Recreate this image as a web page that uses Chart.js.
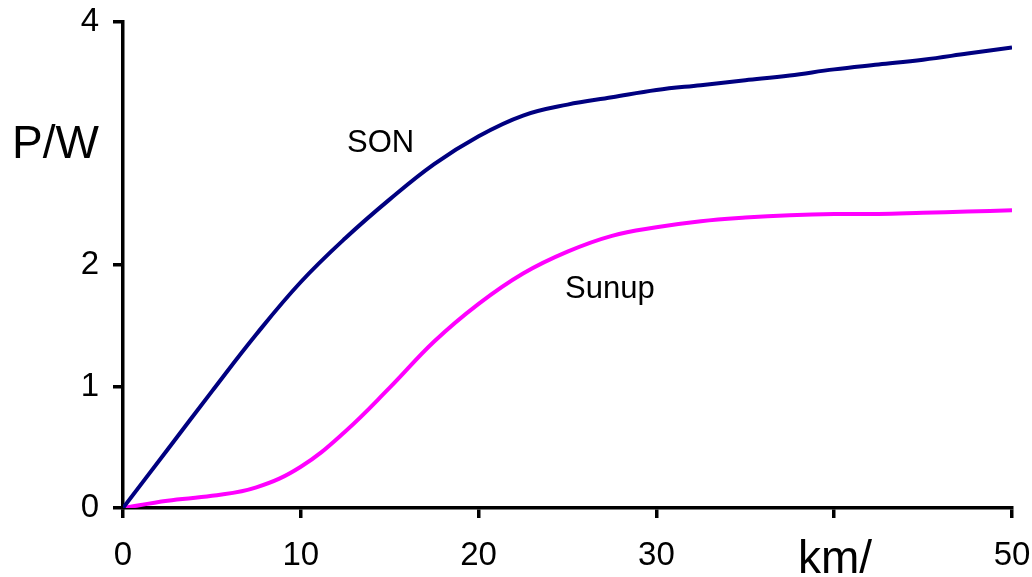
<!DOCTYPE html>
<html>
<head>
<meta charset="utf-8">
<script src="https://cdn.jsdelivr.net/npm/chart.js@4"></script>
<style>
html,body{margin:0;padding:0;background:#fff;}
#wrap{width:1032px;height:577px;position:relative;}
</style>
</head>
<body>
<div id="wrap"><canvas id="c"></canvas></div>
<script>
const xValues   = [0, 2.5, 5, 7.5, 10, 12.5, 15, 17.5, 20, 22.5, 25, 27.5, 30, 32.5, 35, 37.5, 40, 42.5, 45, 47.5, 50];
const sonValues = [0, 0.48, 0.96, 1.43, 1.86, 2.22, 2.54, 2.83, 3.06, 3.23, 3.32, 3.38, 3.44, 3.48, 3.52, 3.56, 3.61, 3.65, 3.69, 3.74, 3.79];
const sunupValues = [0, 0.06, 0.10, 0.17, 0.34, 0.63, 0.99, 1.37, 1.68, 1.93, 2.11, 2.24, 2.31, 2.36, 2.39, 2.41, 2.42, 2.42, 2.43, 2.44, 2.45];
const seriesNames = ['SON', 'Sunup'];
const xTickLabels = {0:'0', 10:'10', 20:'20', 30:'30', 40:'', 50:'50'};
const yTickLabels = {0:'0', 1:'1', 2:'2', 3:'', 4:'4'};
const xTitle = 'km/';
const yTitle = 'P/W';

const FONT = 'Liberation Sans, Arial, sans-serif';

function pts(ys){ return xValues.map((x,i)=>({x:x, y:ys[i]})); }

const annot = {
  id:'annot',
  afterDraw(chart){
    const ctx = chart.ctx, xs = chart.scales.x, ys = chart.scales.y;
    ctx.save();
    ctx.fillStyle = '#000';
    ctx.textAlign = 'left';
    ctx.textBaseline = 'alphabetic';
    ctx.font = '31px ' + FONT;
    ctx.fillText(seriesNames[0], xs.getPixelForValue(12.6), ys.getPixelForValue(2.93));
    ctx.fillText(seriesNames[1], xs.getPixelForValue(24.86), ys.getPixelForValue(1.73));
    ctx.font = '46px ' + FONT;
    ctx.fillText(yTitle, 12, ys.getPixelForValue(3) + 14);
    ctx.fillText(xTitle, xs.getPixelForValue(37.96), ys.bottom + 65);
    ctx.restore();
  }
};

new Chart(document.getElementById('c'), {
  type: 'scatter',
  data: {
    datasets: [
      {label: seriesNames[0], data: pts(sonValues), showLine: true, borderColor: '#000080', borderWidth: 4, pointRadius: 0, tension: 0.4},
      {label: seriesNames[1], data: pts(sunupValues), showLine: true, borderColor: '#ff00ff', borderWidth: 4, pointRadius: 0, tension: 0.4}
    ]
  },
  options: {
    responsive: true,
    maintainAspectRatio: false,
    animation: false,
    layout: {padding: {top: 22, right: 20, left: 0, bottom: 0}},
    plugins: {legend: {display: false}, tooltip: {enabled: false}},
    scales: {
      x: {
        type: 'linear', min: 0, max: 50,
        ticks: {stepSize: 10, color: '#000', font: {family: FONT, size: 33}, padding: 18, maxRotation: 0,
                callback: v => (v in xTickLabels) ? xTickLabels[v] : ''},
        grid: {drawOnChartArea: false, drawTicks: true, tickLength: 10, color: '#000', lineWidth: 3.5},
        border: {color: '#000', width: 3.5},
        afterFit: s => { s.height = 69; s.paddingLeft = 0; s.paddingRight = 0; }
      },
      y: {
        type: 'linear', min: 0, max: 4,
        ticks: {stepSize: 1, color: '#000', font: {family: FONT, size: 33}, padding: 14,
                callback: v => (v in yTickLabels) ? yTickLabels[v] : ''},
        grid: {drawOnChartArea: false, drawTicks: true, tickLength: 10, lineWidth: 3.5,
               color: c => (c.tick && c.tick.value === 3) ? 'rgba(0,0,0,0)' : '#000'},
        border: {color: '#000', width: 3.5},
        afterFit: s => { s.width = 123; s.paddingTop = 0; s.paddingBottom = 0; }
      }
    }
  },
  plugins: [annot]
});
</script>
</body>
</html>
